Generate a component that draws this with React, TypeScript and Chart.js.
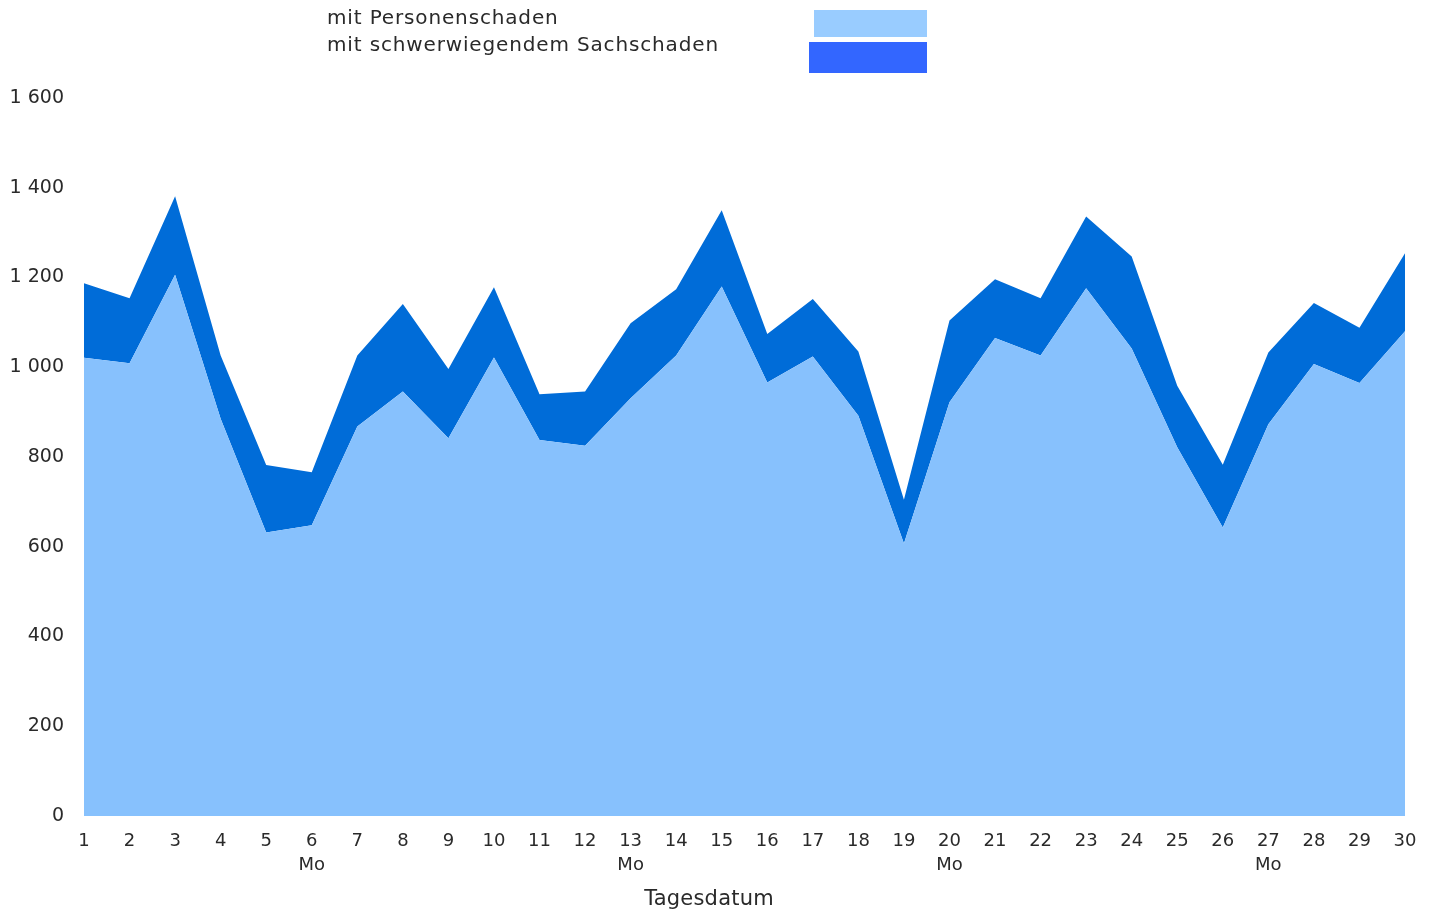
import React, { useEffect, useRef } from "react";
import { Chart, registerables } from "chart.js";

Chart.register(...registerables);

const days = ["1","2","3","4","5","6","7","8","9","10","11","12","13","14","15","16","17","18","19","20","21","22","23","24","25","26","27","28","29","30"];
const mondays = ["6", "13", "20", "27"];
const personenschaden = [1021,1009,1206,885,632,648,868,946,842,1022,838,825,931,1026,1180,966,1024,892,607,922,1065,1026,1176,1042,822,643,873,1007,965,1080];
const sachschaden = [166,145,175,141,150,118,158,195,154,156,102,121,167,148,170,108,128,143,98,182,131,128,160,205,137,140,160,136,123,174];
const yTicks = [0, 200, 400, 600, 800, 1000, 1200, 1400, 1600];
const seriesNames = ["mit Personenschaden", "mit schwerwiegendem Sachschaden"];
const xTitle = "Tagesdatum";

const FONT = "'DejaVu Sans', sans-serif";
const TEXT = "#2a2a2a";

function fmt(v: number) {
  return String(v).replace(/\B(?=(\d{3})+(?!\d))/g, " ");
}

export default function App() {
  const ref = useRef<HTMLCanvasElement | null>(null);
  useEffect(() => {
    if (!ref.current) return;
    const labels = days.map((d) => (mondays.includes(d) ? [d, "Mo"] : d));
    const chart = new Chart(ref.current, {
      type: "line",
      data: {
        labels,
        datasets: [
          {
            label: seriesNames[0],
            data: personenschaden,
            fill: "origin",
            backgroundColor: "#87c1fd",
            borderWidth: 0,
            pointRadius: 0,
            tension: 0,
          },
          {
            label: seriesNames[1],
            data: sachschaden,
            fill: "-1",
            backgroundColor: "#006cd8",
            borderWidth: 0,
            pointRadius: 0,
            tension: 0,
          },
        ],
      },
      options: {
        responsive: false,
        animation: false,
        layout: { padding: { top: 98, right: 30, bottom: 0, left: 0 } },
        plugins: { legend: { display: false }, tooltip: { enabled: false } },
        scales: {
          x: {
            offset: false,
            grid: { display: false, drawTicks: false },
            border: { display: false },
            ticks: {
              autoSkip: false,
              maxRotation: 0,
              padding: 13,
              color: TEXT,
              font: { family: FONT, size: 18, lineHeight: "24px" },
            },
            afterFit: (s: any) => {
              s.height = 98;
            },
          },
          y: {
            stacked: true,
            min: 0,
            max: 1600,
            afterBuildTicks: (s: any) => {
              s.ticks = yTicks.map((v) => ({ value: v }));
            },
            grid: { display: false, drawTicks: false },
            border: { display: false },
            ticks: {
              padding: 20,
              color: TEXT,
              font: { family: FONT, size: 19 },
              callback: (v: any) => fmt(Number(v)),
            },
            afterFit: (s: any) => {
              s.width = 84;
            },
          },
        },
      },
    });
    return () => chart.destroy();
  }, []);

  const legendText: React.CSSProperties = {
    position: "absolute",
    left: 327,
    fontFamily: FONT,
    fontSize: 20,
    lineHeight: "27px",
    letterSpacing: "0.85px",
    color: TEXT,
    whiteSpace: "nowrap",
  };

  return (
    <div style={{ position: "absolute", left: 0, top: 0, width: 1435, height: 914, background: "#fff" }}>
      <canvas ref={ref} width={1435} height={914} style={{ position: "absolute", left: 0, top: 0 }} />
      <div style={{ ...legendText, top: 4 }}>{seriesNames[0]}</div>
      <div style={{ ...legendText, top: 31 }}>{seriesNames[1]}</div>
      <div style={{ position: "absolute", left: 814, top: 10, width: 113, height: 27, background: "#99ccff" }} />
      <div style={{ position: "absolute", left: 809, top: 42, width: 118, height: 31, background: "#3366ff" }} />
      <div
        style={{
          position: "absolute",
          left: 559,
          width: 300,
          top: 884,
          textAlign: "center",
          fontFamily: FONT,
          fontSize: 21,
          lineHeight: "28px",
          letterSpacing: "0.2px",
          color: TEXT,
          whiteSpace: "nowrap",
        }}
      >
        {xTitle}
      </div>
    </div>
  );
}
